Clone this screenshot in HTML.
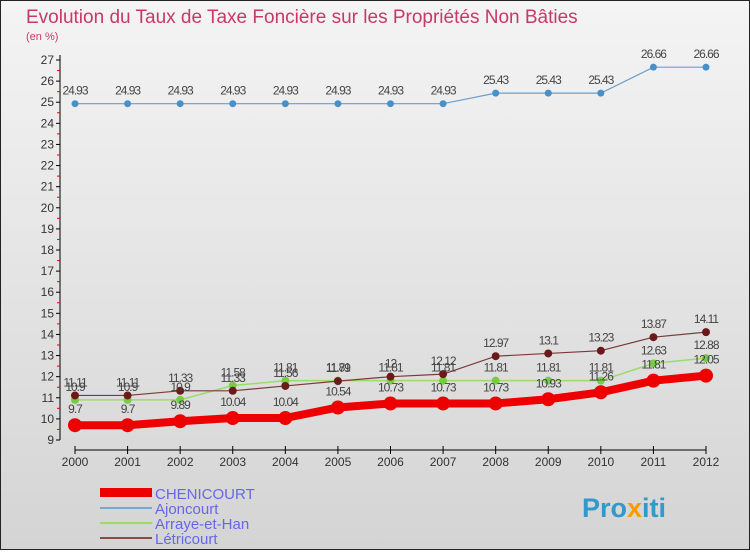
<!DOCTYPE html>
<html><head><meta charset="utf-8"><style>
body{margin:0;}
svg text{font-family:"Liberation Sans",sans-serif;}
</style></head><body>
<svg width="750" height="550" viewBox="0 0 750 550" xmlns="http://www.w3.org/2000/svg">
<defs><linearGradient id="bg" x1="0" y1="0" x2="0" y2="1"><stop offset="0" stop-color="#f4f4f4"/><stop offset="1" stop-color="#d4d4d4"/></linearGradient></defs>
<rect x="0.5" y="0.5" width="749" height="549" fill="url(#bg)" stroke="#222"/>
<text x="26" y="23" font-size="19" fill="#c8386a">Evolution du Taux de Taxe Foncière sur les Propriétés Non Bâties</text>
<text x="26" y="40" font-size="11" fill="#c8386a">(en %)</text>
<g id="axes"></g><g id="series"></g><g id="labels"></g>
<g>
<rect x="100" y="488" width="52" height="9" fill="#ee0000"/>
<text x="155" y="499" font-size="15" fill="#6666ee">CHENICOURT</text>
<line x1="100" y1="508" x2="152" y2="508" stroke="#7aa8cc" stroke-width="2"/>
<text x="155" y="514" font-size="15" fill="#6666ee">Ajoncourt</text>
<line x1="100" y1="523" x2="152" y2="523" stroke="#99dd66" stroke-width="2"/>
<text x="155" y="529" font-size="15" fill="#6666ee">Arraye-et-Han</text>
<line x1="100" y1="538" x2="152" y2="538" stroke="#8b4a4a" stroke-width="2"/>
<text x="155" y="544" font-size="15" fill="#6666ee">Létricourt</text>
</g>
<g>
<text x="582" y="517" font-size="27" font-weight="bold" fill="#3399cc">Pro<tspan fill="#ff9900">x</tspan>iti</text>
</g>
</svg>
<script>
const years=[2000,2001,2002,2003,2004,2005,2006,2007,2008,2009,2010,2011,2012];
const chenicourt=[9.7,9.7,9.89,10.04,10.04,10.54,10.73,10.73,10.73,10.93,11.26,11.81,12.05];
const ajoncourt=[24.93,24.93,24.93,24.93,24.93,24.93,24.93,24.93,25.43,25.43,25.43,26.66,26.66];
const arraye=[10.9,10.9,10.9,11.58,11.81,11.81,11.81,11.81,11.81,11.81,11.81,12.63,12.88];
const letricourt=[11.11,11.11,11.33,11.33,11.56,11.79,12,12.12,12.97,13.1,13.23,13.87,14.11];
const yTicks=[9,10,11,12,13,14,15,16,17,18,19,20,21,22,23,24,25,26,27];
const NS="http://www.w3.org/2000/svg";
const x=i=>75+i*(706-75)/(years.length-1);
const y=v=>440-(v-9)*(380/18);
function mk(t,a,p){const e=document.createElementNS(NS,t);for(const k in a)e.setAttribute(k,a[k]);p.appendChild(e);return e;}
const ax=document.getElementById('axes'),se=document.getElementById('series'),lb=document.getElementById('labels');
const yl=mk('line',{x1:60,y1:55,x2:60,y2:440,stroke:'#000'},ax);


const xl=mk('line',{x1:75,y1:450,x2:706,y2:450,stroke:'#000'},ax);


yTicks.forEach(v=>{
  mk('line',{x1:56,y1:y(v),x2:60,y2:y(v),stroke:'#000'},ax);
  if(v<27)mk('line',{x1:57,y1:y(v+0.5),x2:60,y2:y(v+0.5),stroke:'#e00'},ax);
  const t=mk('text',{x:54,y:y(v)+4,'font-size':12,'text-anchor':'end',fill:'#333'},ax);t.textContent=v;
  
  
});
years.forEach((yr,i)=>{
  mk('line',{x1:x(i),y1:446,x2:x(i),y2:454,stroke:'#000'},ax);
  const t=mk('text',{x:x(i),y:466,'font-size':12,'text-anchor':'middle',fill:'#333'},ax);t.textContent=yr;
  
  
});
function series(d,name,col,w,r,dot,labOff){
  const pl=mk('polyline',{points:d.map((v,i)=>x(i)+','+y(v)).join(' '),fill:'none',stroke:col,'stroke-width':w},se);
  
  
  d.forEach((v,i)=>{
    const c=mk('circle',{cx:x(i),cy:y(v),r:r,fill:dot},se);
    
    
    const t=mk('text',{x:x(i),y:y(v)+labOff,'font-size':12,'text-anchor':'middle',fill:'#444','letter-spacing':'-1'},lb);
    t.textContent=v;
    
    
  });
}
series(ajoncourt,'ajoncourt','#6a9fcc',1.2,3.5,'#4a90c8',-9);
series(arraye,'arraye-et-han','#99dd66',1.5,4,'#77cc44',-9);
series(letricourt,'letricourt','#7a3a3a',1.2,4,'#6a1a1a',-9);
series(chenicourt,'chenicourt','#ee0000',8,7,'#ee0000',-12);
</script>
</body></html>
